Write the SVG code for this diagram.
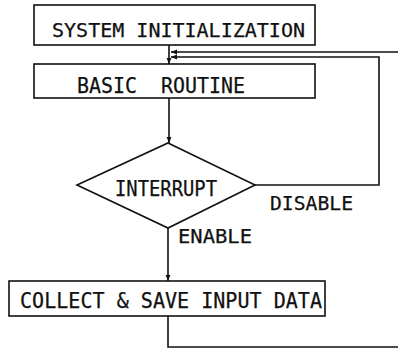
<svg xmlns="http://www.w3.org/2000/svg" width="398" height="351" viewBox="0 0 398 351">
  <style>
    .box { fill: #fff; stroke: #111; stroke-width: 1.6; }
    .wire { fill: none; stroke: #111; stroke-width: 1.6; }
    .lbl { font-family: "DejaVu Sans Mono", "Liberation Mono", monospace; fill: #111; stroke: #111; stroke-width: 0.25; }
  </style>
  <defs>
    <marker id="arr" viewBox="0 0 10 10" refX="10" refY="5" markerWidth="6" markerHeight="6" orient="auto" markerUnits="userSpaceOnUse">
      <path d="M0,1 L10,5 L0,9 Z" fill="#111"/>
    </marker>
  </defs>
  <rect width="398" height="351" fill="#fff"/>

  <g id="connectors">
    <!-- init to basic routine -->
    <path class="wire" d="M169,45 V64" marker-end="url(#arr)"/>
    <!-- basic routine to interrupt test -->
    <path class="wire" d="M169,98 V143" marker-end="url(#arr)"/>
    <!-- enable branch to data collection -->
    <path class="wire" d="M168,228 V281" marker-end="url(#arr)"/>
    <!-- disable branch loops back -->
    <path class="wire" d="M255,185 H379 V57 H171" marker-end="url(#arr)"/>
    <!-- after data collection, loop back from the right -->
    <path class="wire" d="M168,316 V347 H398"/>
    <path class="wire" d="M398,52 H171" marker-end="url(#arr)"/>
  </g>

  <g id="system-init">
    <rect class="box" x="34" y="5" width="281" height="40"/>
    <text class="lbl" x="52" y="37" font-size="20" textLength="253" lengthAdjust="spacingAndGlyphs">SYSTEM INITIALIZATION</text>
  </g>

  <g id="basic-routine">
    <rect class="box" x="34" y="64" width="281" height="34"/>
    <text class="lbl" x="77" y="93" font-size="21" textLength="168" lengthAdjust="spacingAndGlyphs" xml:space="preserve">BASIC  ROUTINE</text>
  </g>

  <g id="interrupt">
    <polygon class="box" points="168,143 255,185 168,228 77,185"/>
    <text class="lbl" x="115" y="196" font-size="21" textLength="102" lengthAdjust="spacingAndGlyphs">INTERRUPT</text>
    <text class="lbl" x="270" y="210" font-size="20" textLength="83" lengthAdjust="spacingAndGlyphs">DISABLE</text>
    <text class="lbl" x="178" y="243" font-size="19" textLength="74" lengthAdjust="spacingAndGlyphs">ENABLE</text>
  </g>

  <g id="collect-data">
    <rect class="box" x="9" y="281" width="316" height="35"/>
    <text class="lbl" x="20" y="308" font-size="21" textLength="302" lengthAdjust="spacingAndGlyphs">COLLECT &amp; SAVE INPUT DATA</text>
  </g>
</svg>
